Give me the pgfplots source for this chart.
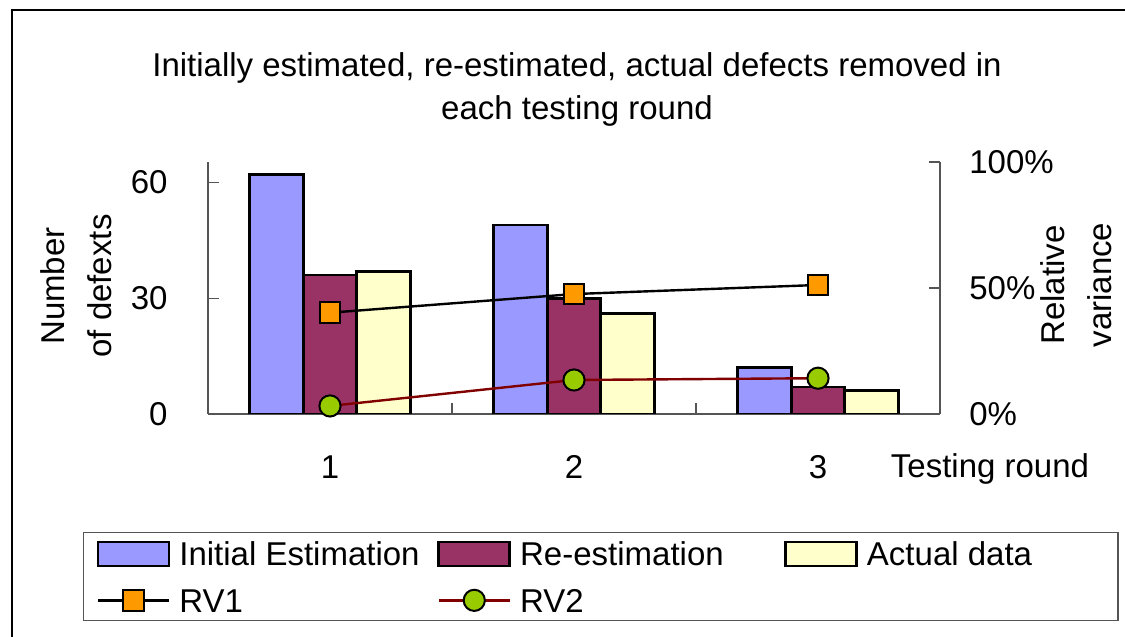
\documentclass[border=0pt]{standalone}
\usepackage{fontspec}
\setmainfont{Liberation Sans}
\usepackage{pgfplots}
\pgfplotsset{compat=1.18}

\definecolor{cInit}{HTML}{9999FF}
\definecolor{cRe}{HTML}{993366}
\definecolor{cAct}{HTML}{FFFFCC}
\definecolor{cRVa}{HTML}{FF9900}
\definecolor{cRVb}{HTML}{99CC00}
\definecolor{cRVbline}{HTML}{800000}
\definecolor{axgray}{HTML}{555555}

\newcommand\fs{\fontsize{16.5pt}{23.5pt}\selectfont}

\pgfplotsset{
  barleg/.style={legend image code/.code={\draw[##1] (0pt,-6pt) rectangle (35.5pt,6pt);}},
  linleg/.style={legend image code/.code={%
    \draw[##1, mark repeat=2, mark phase=2] plot coordinates {(0pt,0pt) (17.75pt,0pt) (35.5pt,0pt)};}},
  common/.style={
    scale only axis, width=366pt, height=126pt,
    at={(104pt,111.5pt)}, anchor=origin,
    xmin=0, xmax=3,
    axis line style={axgray, line width=0.6pt},
    tick style={axgray, line width=0.6pt},
    tick align=inside,
    major tick length=5.5pt,
    tick label style={font=\fs},
    /pgf/number format/assume math mode=true,
  },
}

\begin{document}
\begin{tikzpicture}[font=\fs]
\path[use as bounding box] (0,0) rectangle (562.5pt,318.5pt);
\draw[black, line width=0.6pt] (6pt,0pt) -- (6pt,313.5pt) -- (562.5pt,313.5pt);

\node[anchor=base] at (288.5pt,280pt) {Initially estimated, re-estimated, actual defects removed in};
\node[anchor=base] at (288.5pt,258.5pt) {each testing round};

\begin{axis}[common,
  ymin=0, ymax=65.3,
  axis x line*=bottom, axis y line*=left,
  ytick={0,30,60},
  yticklabel style={anchor=east, inner sep=0pt, xshift=-20pt},
  xtick={1,2}, xticklabels={,},
  extra x ticks={0.5,1.5,2.5},
  extra x tick labels={1,2,3},
  extra x tick style={major tick length=0pt},
  xticklabel style={anchor=base, yshift=-32.5pt},
]
\addplot[ybar, bar width=26.75pt, bar shift=-26.75pt, fill=cInit, draw=black, line width=1.4pt]
  coordinates {(0.5,62) (1.5,49) (2.5,12)};
\addplot[ybar, bar width=26.75pt, bar shift=0pt, fill=cRe, draw=black, line width=1.4pt]
  coordinates {(0.5,36) (1.5,30) (2.5,7)};
\addplot[ybar, bar width=26.75pt, bar shift=26.75pt, fill=cAct, draw=black, line width=1.4pt]
  coordinates {(0.5,37) (1.5,26) (2.5,6)};
\end{axis}

\begin{axis}[common,
  ymin=0, ymax=100,
  axis x line=none, axis y line*=right,
  ytick={0,50,100}, yticklabels={0\%,50\%,100\%},
  yticklabel style={anchor=west, inner sep=0pt, xshift=14.5pt},
  clip=false,
  legend columns=3,
  legend cell align=left,
  legend style={at={(axis description cs:-0.1708,-0.468)}, anchor=north west,
    draw=axgray, line width=0.6pt, inner xsep=6.5pt, inner ysep=4pt,
    row sep=10.5pt, column sep=0pt, font=\fs,
    nodes={inner sep=0pt, text height=12pt, text depth=0pt, anchor=west},
    /tikz/every odd column/.append style={column sep=4.5pt}},
]
\addlegendimage{barleg, fill=cInit, draw=black, line width=1.4pt}
\addlegendentry{\makebox[129pt][l]{Initial Estimation}}
\addlegendimage{barleg, fill=cRe, draw=black, line width=1.4pt}
\addlegendentry{\makebox[132pt][l]{Re-estimation}}
\addlegendimage{barleg, fill=cAct, draw=black, line width=1.4pt}
\addlegendentry{\makebox[119pt][l]{Actual data}}
\addplot[linleg, black, line width=1.2pt, mark=square*, mark size=5.2pt,
  mark options={fill=cRVa, draw=black, line width=1pt}]
  coordinates {(0.5,40.2) (1.5,47.6) (2.5,51.2)};
\addlegendentry{\makebox[129pt][l]{RV1}}
\addplot[linleg, cRVbline, line width=1.2pt, mark=*, mark size=5.3pt,
  mark options={fill=cRVb, draw=black, line width=1pt}]
  coordinates {(0.5,3.2) (1.5,13.5) (2.5,14.2)};
\addlegendentry{\makebox[132pt][l]{RV2}}
\end{axis}

\node[rotate=90, align=center] at (38.2pt,175.5pt) {Number\\of defexts};
\node[rotate=90, align=center] at (538.25pt,176pt) {Relative\\variance};
\node[anchor=base] at (495pt,79.5pt) {Testing round};
\end{tikzpicture}
\end{document}
